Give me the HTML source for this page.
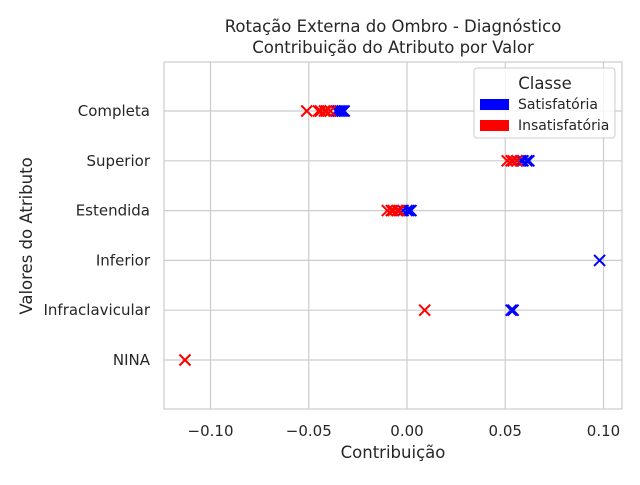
<!DOCTYPE html>
<html><head><meta charset="utf-8"><style>
body{margin:0;background:#fff}
svg text{font-family:"DejaVu Sans","Liberation Sans",sans-serif;fill:#262626}
</style></head><body>
<svg id="c" width="640" height="480" xmlns="http://www.w3.org/2000/svg">
<rect x="164" y="62" width="458" height="347" fill="#fff" stroke="#ccc" stroke-width="1.2"/>
<g id="grid"></g><g id="marks"></g><g id="ticks"></g>
<text x="393" y="32" font-size="16.5" text-anchor="middle">Rotação Externa do Ombro - Diagnóstico</text>
<text x="393" y="53" font-size="16.5" text-anchor="middle">Contribuição do Atributo por Valor</text>
<text x="393" y="458" font-size="16.5" text-anchor="middle">Contribuição</text>
<text transform="translate(32,236) rotate(-90)" font-size="16.5" text-anchor="middle">Valores do Atributo</text>
<g>
<rect x="474" y="68" width="141" height="70" rx="3" fill="#fff" fill-opacity="0.8" stroke="#ccc"/>
<text x="545" y="89" font-size="16.5" text-anchor="middle">Classe</text>
<rect x="480" y="99" width="29" height="11" fill="#0000ff"/>
<text x="518" y="109" font-size="14">Satisfatória</text>
<rect x="480" y="120" width="29" height="11" fill="#ff0000"/>
<text x="518" y="130" font-size="14">Insatisfatória</text>
</g>
</svg>
<script>
const categories=["Completa","Superior","Estendida","Inferior","Infraclavicular","NINA"];
const xTicks=[-0.10,-0.05,0.00,0.05,0.10];
const xTickLabels=["−0.10","−0.05","0.00","0.05","0.10"];
const satCat=["Completa","Completa","Completa","Completa","Completa","Superior","Superior","Superior","Superior","Superior","Estendida","Estendida","Estendida","Estendida","Inferior","Infraclavicular","Infraclavicular"];
const satVal=[-0.036,-0.035,-0.034,-0.033,-0.032,0.056,0.058,0.059,0.061,0.062,-0.002,0.000,0.001,0.002,0.098,0.053,0.054];
const insCat=["Completa","Completa","Completa","Completa","Completa","Completa","Superior","Superior","Superior","Superior","Estendida","Estendida","Estendida","Estendida","Estendida","Infraclavicular","NINA"];
const insVal=[-0.051,-0.045,-0.044,-0.042,-0.041,-0.039,0.051,0.053,0.054,0.056,-0.010,-0.008,-0.007,-0.005,-0.004,0.009,-0.113];
const NS="http://www.w3.org/2000/svg";
const xs=v=>407+v*1965;
const ys=c=>111+categories.indexOf(c)*49.8;
function mk(t,a,p){const e=document.createElementNS(NS,t);for(const k in a)e.setAttribute(k,a[k]);p.appendChild(e);return e;}
const g=document.getElementById('grid'),tk=document.getElementById('ticks'),m=document.getElementById('marks');
xTicks.forEach((v,i)=>{
 const l=mk('line',{x1:xs(v),x2:xs(v),y1:62,y2:409,stroke:'#ccc','stroke-width':1.2},g);
 
 
 const t=mk('text',{x:xs(v),y:436,'font-size':15,'text-anchor':'middle'},tk);t.textContent=xTickLabels[i];
 
 
});
categories.forEach(c=>{
 const l=mk('line',{x1:164,x2:622,y1:ys(c),y2:ys(c),stroke:'#ccc','stroke-width':1.2},g);
 
 
 const t=mk('text',{x:150,y:ys(c)+5,'font-size':15,'text-anchor':'end'},tk);t.textContent=c;
 
 
});
function cross(v,c,col){
 const x=xs(v),y=ys(c),s=5.5;
 const p=mk('path',{d:`M${x-s},${y-s}L${x+s},${y+s}M${x-s},${y+s}L${x+s},${y-s}`,stroke:col,'stroke-width':2,fill:'none'},m);
 
 
}
satVal.forEach((v,i)=>cross(v,satCat[i],'#0000ff'));
insVal.forEach((v,i)=>cross(v,insCat[i],'#ff0000'));
</script>
</body></html>
